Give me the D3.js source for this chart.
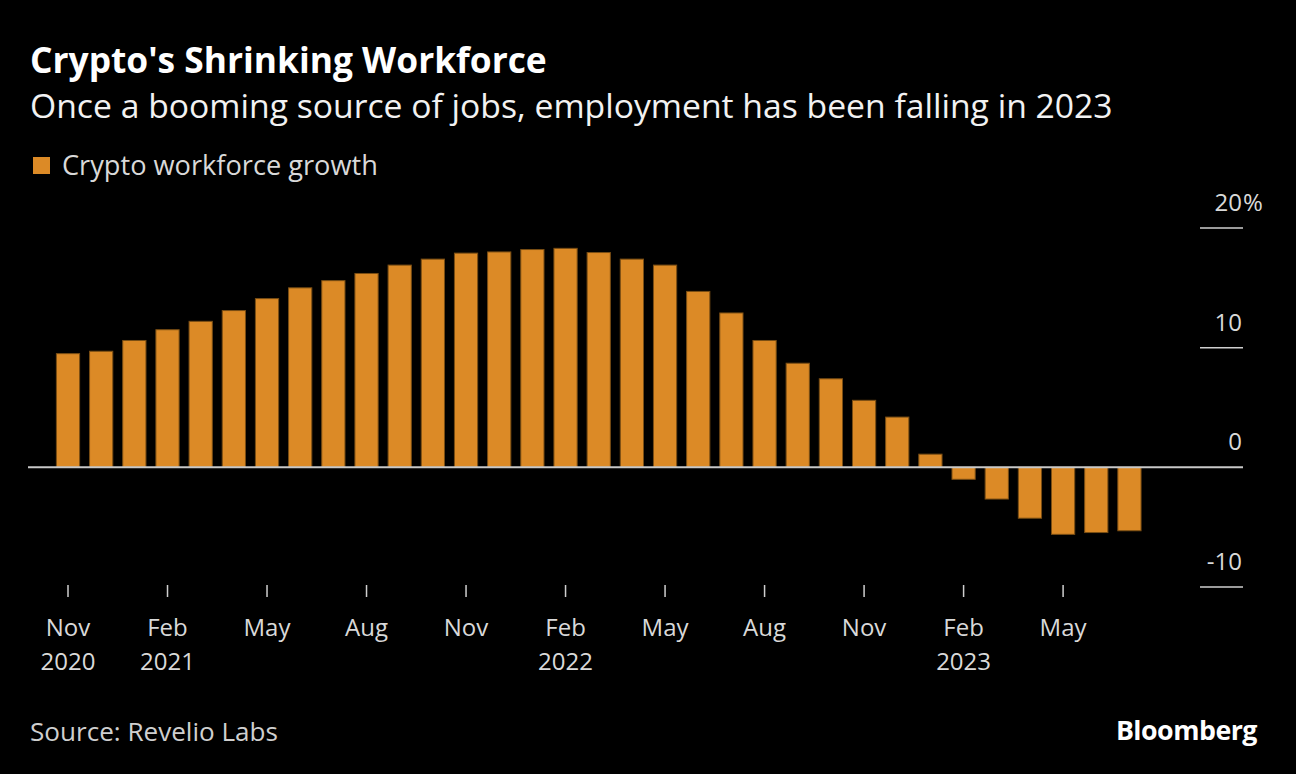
<!DOCTYPE html>
<html>
<head>
<meta charset="utf-8">
<script src="https://cdn.jsdelivr.net/npm/d3@7"></script>
<style>
  html, body { margin: 0; padding: 0; background: #000; }
  svg { display: block; }
  text { font-family: "Open Sans", "Noto Sans", sans-serif; }
</style>
</head>
<body>
<svg id="chart" width="1296" height="774"></svg>
<script>
// ---- Data ----
const months = [
  "Nov 2020","Dec 2020","Jan 2021","Feb 2021","Mar 2021","Apr 2021","May 2021","Jun 2021","Jul 2021","Aug 2021","Sep 2021","Oct 2021",
  "Nov 2021","Dec 2021","Jan 2022","Feb 2022","Mar 2022","Apr 2022","May 2022","Jun 2022","Jul 2022","Aug 2022","Sep 2022","Oct 2022",
  "Nov 2022","Dec 2022","Jan 2023","Feb 2023","Mar 2023","Apr 2023","May 2023","Jun 2023","Jul 2023"
];
const growth = [
  9.5, 9.7, 10.6, 11.5, 12.2, 13.1, 14.1, 15.0, 15.6, 16.2, 16.9, 17.4,
  17.9, 18.0, 18.2, 18.3, 17.95, 17.4, 16.9, 14.7, 12.9, 10.6, 8.7, 7.4,
  5.6, 4.2, 1.1, -1.0, -2.65, -4.25, -5.6, -5.45, -5.3
];
const xTickMonths = ["Nov 2020","Feb 2021","May 2021","Aug 2021","Nov 2021","Feb 2022","May 2022","Aug 2022","Nov 2022","Feb 2023","May 2023"];
const xTickLine1 = ["Nov","Feb","May","Aug","Nov","Feb","May","Aug","Nov","Feb","May"];
const xTickLine2 = ["2020","2021","","","","2022","","","","2023",""];
const yTicks = [-10, 0, 10, 20];
const yTickLabels = ["-10", "0", "10", "20"];

const title = "Crypto's Shrinking Workforce";
const subtitle = "Once a booming source of jobs, employment has been falling in 2023";
const legendLabel = "Crypto workforce growth";
const source = "Source: Revelio Labs";

// ---- Setup ----
const svg = d3.select("#chart");
const W = 1296, H = 774;
svg.append("rect").attr("width", W).attr("height", H).attr("fill", "#000");

const barColor = "#dc8a26";
const step = 33.17;
const x = d3.scaleBand()
  .domain(months)
  .range([68 - step / 2, 68 - step / 2 + step * months.length])
  .paddingInner(0.3)
  .paddingOuter(0.15);
const y = d3.scaleLinear().domain([-10, 20]).range([587, 228]);

function fitText(sel, target) {
  const node = sel.node();
  const fs = parseFloat(sel.attr("font-size"));
  const w = node.getComputedTextLength();
  if (w > 0) sel.attr("font-size", (fs * target / w).toFixed(2));
}

// Title / subtitle
fitText(svg.append("text").attr("x", 30).attr("y", 73).attr("fill", "#fff")
  .attr("font-weight", 700).attr("font-size", 32).text(title), 517);
fitText(svg.append("text").attr("x", 30).attr("y", 118).attr("fill", "#f2f2f2")
  .attr("font-size", 30).text(subtitle), 1083);

// Legend
svg.append("rect").attr("x", 33).attr("y", 157).attr("width", 17).attr("height", 17).attr("fill", barColor);
fitText(svg.append("text").attr("x", 62).attr("y", 175).attr("fill", "#d9d9d9")
  .attr("font-size", 26).text(legendLabel), 316);

// Y axis tick lines + labels (right side)
const yAxisG = svg.append("g");
yAxisG.selectAll("line.ytick")
  .data(yTicks.filter(d => d !== 0))
  .join("line")
  .attr("class", "ytick")
  .attr("x1", 1200).attr("x2", 1243)
  .attr("y1", d => y(d)).attr("y2", d => y(d))
  .attr("stroke", "#cfcfcf").attr("stroke-width", 1.5);
yAxisG.selectAll("text.ylab")
  .data(yTicks)
  .join("text")
  .attr("class", "ylab")
  .attr("x", 1242)
  .attr("y", d => y(d) - 17)
  .attr("text-anchor", "end")
  .attr("fill", "#d9d9d9")
  .attr("font-size", 24)
  .text((d, i) => yTickLabels[i]);
svg.append("text").attr("x", 1243).attr("y", y(20) - 17)
  .attr("fill", "#d9d9d9").attr("font-size", 24).text("%");

// Bars
svg.append("g").selectAll("rect.bar")
  .data(growth)
  .join("rect")
  .attr("class", "bar")
  .attr("x", (d, i) => x(months[i]))
  .attr("width", x.bandwidth())
  .attr("y", d => y(Math.max(0, d)))
  .attr("height", d => Math.abs(y(d) - y(0)))
  .attr("fill", barColor)
  .attr("stroke", "#7a4e14")
  .attr("stroke-width", 1);

// Zero line
svg.append("line")
  .attr("x1", 28).attr("x2", 1243)
  .attr("y1", y(0)).attr("y2", y(0))
  .attr("stroke", "#c8c8c8").attr("stroke-width", 2);

// X axis ticks and labels
const xg = svg.append("g");
const cx = m => x(m) + x.bandwidth() / 2;
xg.selectAll("line.xtick")
  .data(xTickMonths)
  .join("line")
  .attr("class", "xtick")
  .attr("x1", cx).attr("x2", cx)
  .attr("y1", 585).attr("y2", 597)
  .attr("stroke", "#cfcfcf").attr("stroke-width", 1.5);
xg.selectAll("text.xl1")
  .data(xTickMonths)
  .join("text")
  .attr("class", "xl1")
  .attr("x", cx).attr("y", 636)
  .attr("text-anchor", "middle")
  .attr("fill", "#d9d9d9").attr("font-size", 24)
  .text((d, i) => xTickLine1[i]);
xg.selectAll("text.xl2")
  .data(xTickMonths)
  .join("text")
  .attr("class", "xl2")
  .attr("x", cx).attr("y", 670)
  .attr("text-anchor", "middle")
  .attr("fill", "#d9d9d9").attr("font-size", 24)
  .text((d, i) => xTickLine2[i]);

// Footer
fitText(svg.append("text").attr("x", 30).attr("y", 741).attr("fill", "#cfcfcf")
  .attr("font-size", 24).text(source), 248);
const bb = svg.append("text").attr("x", 1257).attr("y", 740).attr("text-anchor", "end")
  .attr("fill", "#fff").attr("font-weight", 700).attr("font-size", 26)
  .attr("letter-spacing", -0.5).text("Bloomberg");
fitText(bb, 141);
</script>
</body>
</html>
